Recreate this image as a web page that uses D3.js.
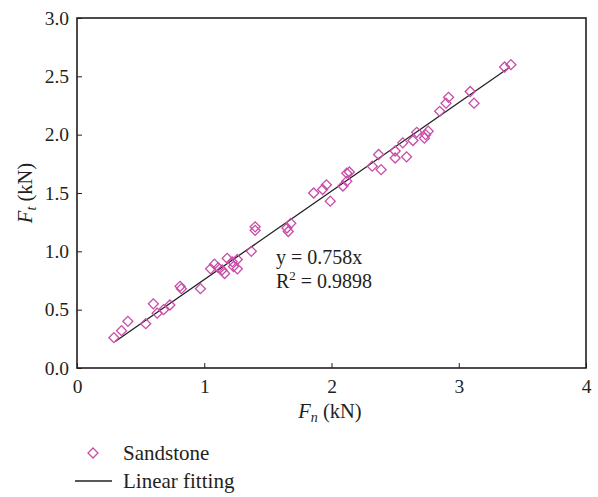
<!DOCTYPE html>
<html>
<head>
<meta charset="utf-8">
<script src="https://cdn.jsdelivr.net/npm/d3@7"></script>
<style>
  body { margin: 0; background: #fff; }
  svg text { font-family: "Liberation Serif", "DejaVu Serif", serif; fill: #231f20; }
</style>
</head>
<body>
<div id="chart"></div>
<script>
// Sandstone measurements: normal force Fn vs tangential force Ft (kN)
var fn = [0.29, 0.35, 0.40, 0.54, 0.60, 0.63, 0.68, 0.73, 0.81, 0.82,
          0.97, 1.05, 1.08, 1.11, 1.14, 1.16, 1.18, 1.22, 1.23, 1.26,
          1.26, 1.37, 1.40, 1.40, 1.65, 1.68, 1.66, 1.86, 1.93, 1.96,
          1.99, 2.09, 2.12, 2.14, 2.12, 2.32, 2.37, 2.39, 2.50, 2.50,
          2.56, 2.59, 2.64, 2.67, 2.73, 2.74, 2.76, 2.85, 2.90, 2.92,
          3.09, 3.12, 3.36, 3.41];
var ft = [0.26, 0.32, 0.40, 0.38, 0.55, 0.47, 0.50, 0.54, 0.70, 0.68,
          0.68, 0.85, 0.89, 0.86, 0.84, 0.81, 0.94, 0.91, 0.87, 0.85,
          0.93, 1.00, 1.21, 1.18, 1.20, 1.24, 1.17, 1.50, 1.53, 1.57,
          1.43, 1.56, 1.67, 1.68, 1.60, 1.73, 1.83, 1.70, 1.86, 1.80,
          1.93, 1.81, 1.95, 2.02, 1.97, 2.00, 2.03, 2.20, 2.27, 2.32,
          2.37, 2.27, 2.58, 2.60];
var slope = 0.758;
var fitRange = [0.30, 3.40];
var xTicks = [0, 1, 2, 3, 4];
var yTicks = [0, 0.5, 1.0, 1.5, 2.0, 2.5, 3.0];

var width = 598, height = 497;
var margin = {left: 77, right: 12, top: 18, bottom: 129};

var svg = d3.select("#chart").append("svg")
  .attr("width", width)
  .attr("height", height);

var x = d3.scaleLinear().domain([0, 4]).range([margin.left, width - margin.right]);
var y = d3.scaleLinear().domain([0, 3]).range([height - margin.bottom, margin.top]);

var pink = "#c84ca8";
var ink = "#231f20";
var serif = "'Liberation Serif', serif";

// axes with inward ticks
var xAxis = svg.append("g")
  .attr("transform", "translate(0," + y(0) + ")")
  .call(d3.axisBottom(x).tickValues(xTicks).tickFormat(d3.format("d")).tickSizeInner(-5).tickSizeOuter(0).tickPadding(11));
var yAxis = svg.append("g")
  .attr("transform", "translate(" + x(0) + ",0)")
  .call(d3.axisLeft(y).tickValues(yTicks).tickFormat(d3.format(".1f")).tickSizeInner(-5).tickSizeOuter(0).tickPadding(8));

[xAxis, yAxis].forEach(function(g) {
  g.attr("font-family", serif);
  g.select(".domain").remove();
  g.selectAll("line").attr("stroke", ink).attr("stroke-width", 1);
  g.selectAll("text").attr("font-size", "19.5px").attr("fill", ink);
});

// frame
svg.append("rect")
  .attr("x", x(0)).attr("y", y(3))
  .attr("width", x(4) - x(0)).attr("height", y(0) - y(3))
  .attr("fill", "none").attr("stroke", ink).attr("stroke-width", 1.6);

// fitted line
svg.append("line")
  .attr("x1", x(fitRange[0])).attr("y1", y(slope * fitRange[0]))
  .attr("x2", x(fitRange[1])).attr("y2", y(slope * fitRange[1]))
  .attr("stroke", ink).attr("stroke-width", 1.3);

// points
var diamond = d3.symbol().type(d3.symbolSquare).size(50);
svg.append("g").selectAll("path")
  .data(d3.range(fn.length))
  .enter()
  .append("path")
  .attr("d", diamond)
  .attr("transform", function(i) { return "translate(" + x(fn[i]) + "," + y(ft[i]) + ") rotate(45)"; })
  .attr("fill", "none")
  .attr("stroke", pink)
  .attr("stroke-width", 1.3);

// equation
svg.append("text")
  .attr("x", 276).attr("y", 264)
  .attr("font-size", "20px")
  .text("y = 0.758x");
var r2 = svg.append("text")
  .attr("x", 276).attr("y", 288)
  .attr("font-size", "20px");
r2.append("tspan").text("R");
r2.append("tspan").attr("dy", -8).attr("font-size", "13px").text("2");
r2.append("tspan").attr("dy", 8).text(" = 0.9898");

// axis titles
var xt = svg.append("text")
  .attr("x", 330).attr("y", 418)
  .attr("text-anchor", "middle")
  .attr("font-size", "20.5px");
xt.append("tspan").attr("font-style", "italic").text("F");
xt.append("tspan").attr("font-style", "italic").attr("font-size", "14px").attr("dy", 4).text("n");
xt.append("tspan").attr("dy", -4).text(" (kN)");

var yt = svg.append("text")
  .attr("transform", "translate(32," + 193 + ") rotate(-90)")
  .attr("text-anchor", "middle")
  .attr("font-size", "20.5px");
yt.append("tspan").attr("font-style", "italic").text("F");
yt.append("tspan").attr("font-style", "italic").attr("font-size", "14px").attr("dy", 4).text("t");
yt.append("tspan").attr("dy", -4).text(" (kN)");

// legend
var legend = svg.append("g");
legend.append("path")
  .attr("d", diamond)
  .attr("transform", "translate(93,453) rotate(45)")
  .attr("fill", "none").attr("stroke", pink).attr("stroke-width", 1.3);
legend.append("text").attr("x", 123).attr("y", 460).attr("font-size", "21px").text("Sandstone");
legend.append("line")
  .attr("x1", 75).attr("x2", 112).attr("y1", 481).attr("y2", 481)
  .attr("stroke", ink).attr("stroke-width", 1.3);
legend.append("text").attr("x", 123).attr("y", 488).attr("font-size", "21px").text("Linear fitting");
</script>
</body>
</html>
